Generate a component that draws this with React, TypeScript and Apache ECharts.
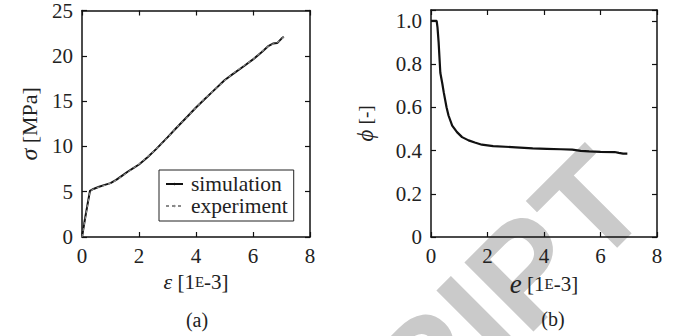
import React, { useEffect, useRef } from "react";
import * as echarts from "echarts";

// Panel (a): stress-strain
const strainA = [0, 0.1, 0.2, 0.28, 0.4, 0.6, 0.8, 1.0, 1.2, 1.4, 1.6, 1.8, 2.0, 2.3, 2.6, 3.0, 3.3, 3.7, 4.0, 4.3, 4.6, 5.0, 5.3, 5.7, 6.0, 6.3, 6.55, 6.7, 6.85, 7.0, 7.08];
const sigmaSimulation = [0, 1.9, 3.7, 5.1, 5.3, 5.55, 5.75, 5.95, 6.3, 6.75, 7.2, 7.6, 8.0, 8.8, 9.7, 11.0, 12.0, 13.3, 14.3, 15.2, 16.1, 17.3, 18.0, 18.9, 19.6, 20.4, 21.1, 21.35, 21.4, 21.9, 22.1];
const sigmaExperiment = [0, 1.8, 3.6, 5.05, 5.3, 5.5, 5.7, 5.95, 6.25, 6.7, 7.15, 7.6, 8.05, 8.85, 9.7, 10.95, 12.05, 13.25, 14.3, 15.25, 16.1, 17.25, 18.05, 18.95, 19.6, 20.45, 21.1, 21.3, 21.45, 21.85, 22.1];

// Panel (b): phi vs strain
const strainB = [0, 0.2, 0.23, 0.27, 0.33, 0.4, 0.45, 0.55, 0.62, 0.75, 0.92, 1.1, 1.33, 1.55, 1.8, 2.2, 3.0, 3.6, 4.1, 4.6, 5.0, 5.3, 5.6, 6.0, 6.5, 6.65, 6.8, 6.95];
const phiValues = [1.0, 1.0, 0.97, 0.9, 0.76, 0.71, 0.67, 0.6, 0.562, 0.515, 0.485, 0.462, 0.447, 0.437, 0.427, 0.42, 0.415, 0.41, 0.408, 0.406, 0.404, 0.398, 0.396, 0.394, 0.393, 0.389, 0.386, 0.386];

const xTickValues = [0, 2, 4, 6, 8];
const sigmaTicks = [0, 5, 10, 15, 20, 25];
const phiTicks = [0, 0.2, 0.4, 0.6, 0.8, 1.0];
const legendNames = ["simulation", "experiment"];

const FONT = "Liberation Serif, serif";
const TXT = "#222";
const AX = "#111";

const zip = (xs: number[], ys: number[]) => xs.map((x, i) => [x, ys[i]]);

const ts = (fontSize: number, extra: any = {}) => ({ fontFamily: FONT, fontSize, color: TXT, ...extra });

function tickLabel(show: boolean, margin: number, fmt: (v: number) => string) {
  return {
    show,
    margin,
    fontFamily: FONT,
    fontSize: 21,
    color: TXT,
    formatter: (v: number) => fmt(v),
  };
}

function axisBase(gridIndex: number, position: string, show: boolean) {
  return {
    gridIndex,
    type: "value",
    position,
    axisLine: { show: true, onZero: false, lineStyle: { color: AX, width: 1.5 } },
    axisTick: { show: true, inside: true, length: 5, lineStyle: { color: AX, width: 1.2 } },
    axisLabel: tickLabel(show, 8, (v) => String(v)),
    splitLine: { show: false },
  };
}

const nameRich = {
  i: ts(22, { fontStyle: "italic" }),
  e: ts(27, { fontStyle: "italic" }),
  s: ts(15),
  n: ts(21),
};

export default function App() {
  const ref = useRef<HTMLDivElement>(null);
  useEffect(() => {
    if (!ref.current) return;
    const chart = echarts.init(ref.current, undefined, { renderer: "svg" });
    const xStep = xTickValues[1] - xTickValues[0];
    const xMin = xTickValues[0];
    const xMax = xTickValues[xTickValues.length - 1];
    const sStep = sigmaTicks[1] - sigmaTicks[0];
    const pStep = phiTicks[1] - phiTicks[0];
    const xAx = (g: number, pos: string, show: boolean, extra: any = {}) => ({
      ...axisBase(g, pos, show),
      min: xMin,
      max: xMax,
      interval: xStep,
      ...extra,
    });
    const nameStyle = { fontFamily: FONT, fontSize: 21, color: TXT, rich: nameRich };
    chart.setOption({
      animation: false,
      textStyle: { fontFamily: FONT },
      grid: [
        { left: 82, top: 10, width: 228, height: 227 },
        { left: 431, top: 10, width: 226, height: 227 },
      ],
      legend: {
        data: legendNames,
        orient: "vertical",
        left: 159,
        top: 170,
        itemWidth: 17,
        itemHeight: 3,
        itemGap: 0,
        padding: [3, 6, 4, 6],
        borderColor: "#222",
        borderWidth: 1,
        backgroundColor: "#fff",
        textStyle: {
          fontFamily: FONT,
          fontSize: 21.5,
          color: TXT,
          lineHeight: 21,
          padding: [0, 0, 0, 3],
        },
      },
      xAxis: [
        xAx(0, "bottom", true, {
          name: "{i|ε} {n|[1}{s|E}{n|-3]}",
          nameLocation: "middle",
          nameGap: 33,
          nameTextStyle: nameStyle,
        }),
        xAx(0, "top", false),
        xAx(1, "bottom", true, {
          name: "{e|e} {n|[1}{s|E}{n|-3]}",
          nameLocation: "middle",
          nameGap: 25,
          nameTextStyle: nameStyle,
        }),
        xAx(1, "top", false),
      ],
      yAxis: [
        {
          ...axisBase(0, "left", true),
          min: sigmaTicks[0],
          max: sigmaTicks[sigmaTicks.length - 1],
          interval: sStep,
          axisLabel: tickLabel(true, 9, (v) => String(v)),
          name: "{i|σ} {m|[MPa]}",
          nameLocation: "middle",
          nameGap: 41,
          nameTextStyle: { ...nameStyle, rich: { ...nameRich, i: ts(24, { fontStyle: "italic" }), m: ts(22) } },
        },
        {
          ...axisBase(0, "right", false),
          min: sigmaTicks[0],
          max: sigmaTicks[sigmaTicks.length - 1],
          interval: sStep,
        },
        {
          ...axisBase(1, "left", true),
          min: phiTicks[0],
          max: 1.05,
          interval: pStep,
          axisLabel: tickLabel(true, 9, (v: number) => {
            const k = v / pStep;
            if (Math.abs(k - Math.round(k)) > 1e-6) return "";
            return v === 0 ? "0" : v.toFixed(1);
          }),
          name: "{i|ϕ} {m|[-]}",
          nameLocation: "middle",
          nameGap: 54,
          nameTextStyle: { ...nameStyle, rich: { ...nameRich, i: ts(23, { fontStyle: "italic" }), m: ts(19) } },
        },
        {
          ...axisBase(1, "right", false),
          min: phiTicks[0],
          max: 1.05,
          interval: pStep,
        },
      ],
      graphic: [
        {
          type: "text",
          z: -10,
          silent: true,
          x: 620,
          y: 175,
          rotation: Math.PI / 4,
          style: {
            text: "RIPT",
            font: "bold 142px 'Liberation Sans', Arial, sans-serif",
            fill: "#cacaca",
            align: "right",
            verticalAlign: "middle",
          },
        },
        {
          type: "text",
          x: 197,
          y: 320,
          style: { text: "(a)", font: "20px 'Liberation Serif', serif", fill: TXT, align: "center", verticalAlign: "middle" },
        },
        {
          type: "text",
          x: 553,
          y: 319,
          style: { text: "(b)", font: "20px 'Liberation Serif', serif", fill: TXT, align: "center", verticalAlign: "middle" },
        },
      ],
      series: [
        {
          name: "simulation",
          type: "line",
          xAxisIndex: 0,
          yAxisIndex: 0,
          data: zip(strainA, sigmaSimulation),
          symbol: "none",
          color: "#111",
          lineStyle: { color: "#111", width: 2 },
        },
        {
          name: "experiment",
          type: "line",
          xAxisIndex: 0,
          yAxisIndex: 0,
          data: zip(strainA, sigmaExperiment),
          symbol: "none",
          color: "#8a8a8a",
          lineStyle: { color: "#8a8a8a", width: 1.2, type: [3, 3] },
        },
        {
          name: "phi",
          type: "line",
          xAxisIndex: 2,
          yAxisIndex: 2,
          data: zip(strainB, phiValues),
          symbol: "none",
          color: "#111",
          lineStyle: { color: "#111", width: 2.2 },
        },
      ],
    });
    return () => chart.dispose();
  }, []);
  return (
    <div
      ref={ref}
      style={{ position: "absolute", left: 0, top: 0, width: 684, height: 336, background: "#fff" }}
    />
  );
}
